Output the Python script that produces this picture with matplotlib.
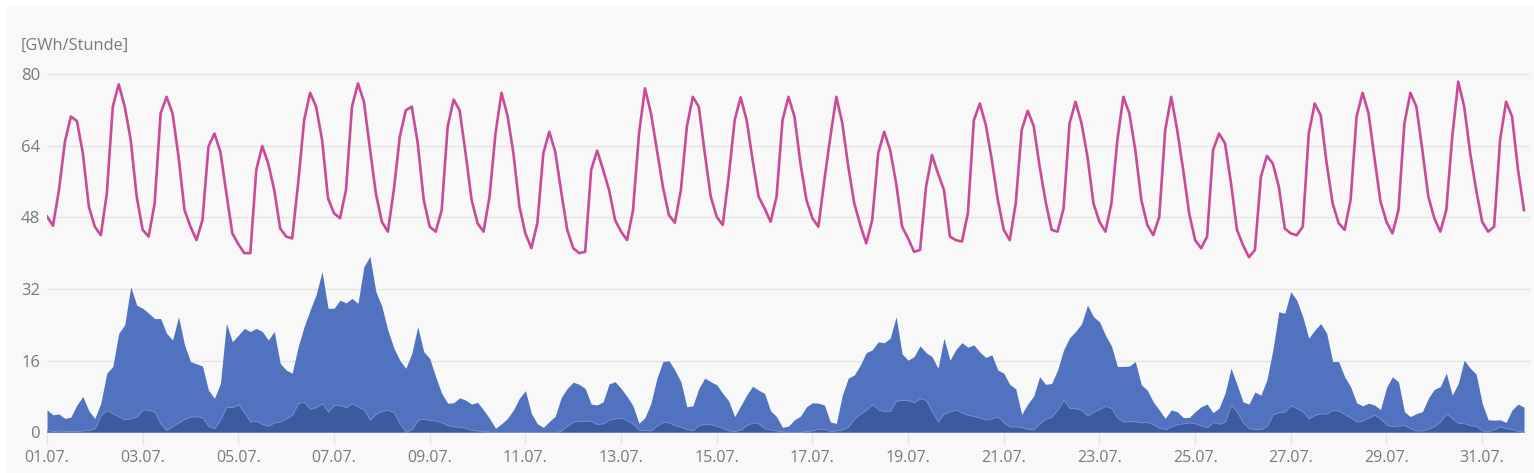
import numpy as np
import pandas as pd
import matplotlib
matplotlib.use("Agg")
import matplotlib.pyplot as plt  # noqa: E402
import matplotlib.dates as mdates  # noqa: E402
from matplotlib.patches import Rectangle  # noqa: E402

# 3-hourly values, 01.07. 00:00 .. 31.07. 21:00, one row per day (GWh per hour)
load = [
    48.2, 46.1, 54.1, 64.9, 70.5, 69.5, 62.3, 50.4,
    45.9, 44.0, 53.3, 72.7, 77.7, 72.7, 65.3, 52.6,
    45.2, 43.7, 51.1, 71.2, 74.9, 71.2, 61.5, 49.6,
    45.9, 42.9, 47.4, 63.8, 66.7, 62.6, 53.3, 44.4,
    42.0, 40.0, 40.0, 58.6, 63.9, 60.0, 54.1, 45.5,
    43.7, 43.3, 55.6, 69.7, 75.8, 72.7, 65.3, 52.2,
    48.9, 47.8, 54.1, 72.7, 77.9, 73.8, 63.4, 53.3,
    47.0, 44.8, 54.1, 66.0, 71.9, 72.7, 64.5, 51.9,
    45.9, 44.8, 49.6, 68.2, 74.3, 71.9, 62.3, 51.9,
    46.7, 44.8, 52.6, 66.7, 75.8, 70.8, 62.3, 50.4,
    44.4, 41.1, 46.7, 62.3, 67.1, 62.6, 53.6, 45.2,
    41.1, 40.0, 40.3, 58.6, 62.9, 58.6, 54.1, 47.4,
    44.8, 42.9, 49.6, 66.7, 76.8, 71.2, 63.0, 54.8,
    48.5, 46.8, 54.1, 68.2, 74.9, 72.7, 62.3, 52.6,
    48.1, 46.3, 57.1, 69.7, 74.8, 69.7, 60.8, 52.6,
    50.0, 47.0, 52.6, 69.7, 74.9, 70.5, 60.0, 51.9,
    47.8, 45.9, 56.3, 66.0, 74.9, 69.0, 59.3, 51.1,
    46.3, 42.2, 47.4, 62.3, 67.1, 63.0, 55.6, 45.9,
    43.3, 40.3, 40.7, 54.8, 61.9, 57.8, 54.1, 43.7,
    42.9, 42.6, 48.9, 69.7, 73.4, 68.6, 60.8, 51.9,
    45.2, 42.9, 51.1, 67.5, 71.8, 68.4, 59.3, 51.5,
    45.2, 44.8, 50.0, 69.0, 73.8, 69.0, 61.5, 51.1,
    47.0, 44.8, 51.1, 65.3, 74.9, 71.2, 63.0, 51.9,
    46.3, 44.0, 48.1, 67.5, 74.9, 67.5, 58.6, 48.9,
    42.9, 41.1, 43.7, 63.0, 66.7, 64.5, 55.6, 45.2,
    41.8, 39.1, 40.7, 57.1, 61.7, 60.0, 54.8, 45.5,
    44.4, 44.0, 45.9, 66.7, 73.4, 70.8, 60.0, 51.1,
    46.7, 45.2, 51.9, 70.5, 75.8, 71.2, 61.2, 51.5,
    47.0, 44.4, 49.6, 69.0, 75.8, 72.7, 63.0, 52.6,
    47.8, 44.8, 49.6, 66.0, 78.3, 72.7, 62.3, 54.1,
    47.0, 44.8, 45.9, 65.3, 73.8, 70.5, 58.6, 49.6,
]

wind_total = [
    5.0, 3.9, 4.1, 3.1, 3.4, 6.1, 8.0, 4.8,
    3.1, 6.5, 13.2, 14.7, 22.1, 24.0, 32.5, 28.4,
    27.7, 26.6, 25.4, 25.4, 22.1, 20.6, 25.8, 19.5,
    15.8, 15.3, 14.8, 9.4, 7.6, 10.9, 24.3, 20.2,
    21.7, 23.2, 22.5, 23.2, 22.5, 20.6, 22.5, 15.4,
    13.9, 13.2, 19.1, 23.6, 27.3, 30.7, 35.9, 27.7,
    27.7, 29.5, 28.9, 29.9, 28.8, 37.0, 39.3, 31.4,
    28.1, 22.8, 18.8, 16.1, 14.3, 17.6, 23.6, 18.0,
    16.5, 12.4, 8.7, 6.5, 6.6, 7.7, 7.2, 6.3,
    6.7, 5.0, 3.1, 0.9, 1.9, 3.1, 5.0, 7.6,
    9.3, 4.2, 1.9, 1.1, 2.4, 3.6, 7.8, 9.8,
    11.2, 10.7, 9.8, 6.3, 6.1, 6.8, 10.8, 11.3,
    9.8, 8.0, 5.9, 2.0, 3.3, 6.5, 12.1, 15.8,
    16.0, 13.9, 11.3, 5.7, 5.9, 9.8, 12.1, 11.3,
    10.6, 8.7, 7.0, 3.5, 5.9, 8.3, 10.3, 9.4,
    8.7, 4.8, 3.5, 1.1, 1.4, 2.8, 3.6, 5.7,
    6.6, 6.5, 6.1, 2.3, 2.0, 8.3, 12.1, 12.8,
    15.0, 17.8, 18.4, 20.2, 20.0, 21.0, 25.8, 17.5,
    16.1, 16.9, 19.3, 17.8, 16.9, 14.3, 21.0, 16.1,
    18.5, 20.0, 19.0, 19.5, 17.9, 16.7, 17.3, 13.9,
    13.2, 10.7, 9.7, 4.0, 6.3, 8.1, 12.4, 10.7,
    10.9, 13.9, 18.4, 21.1, 22.5, 24.2, 28.4, 25.8,
    24.7, 21.7, 19.3, 14.7, 14.7, 14.8, 15.8, 10.6,
    9.4, 6.8, 5.0, 3.1, 5.0, 4.6, 3.3, 3.3,
    4.6, 5.7, 6.3, 4.4, 5.4, 8.7, 14.3, 10.7,
    6.8, 6.3, 9.0, 8.3, 11.7, 18.4, 26.9, 26.6,
    31.4, 29.5, 25.8, 21.0, 22.8, 24.3, 22.1, 15.8,
    15.8, 12.4, 10.2, 6.6, 5.9, 6.5, 6.1, 5.1,
    10.0, 12.4, 11.3, 4.6, 3.5, 4.2, 4.6, 7.6,
    9.6, 10.2, 13.2, 8.3, 10.9, 16.1, 14.3, 13.0,
    6.5, 2.8, 2.7, 2.8, 2.2, 5.0, 6.3, 5.6,
]

wind_offshore = [
    0.5, 0.3, 0.4, 0.3, 0.3, 0.3, 0.4, 0.5,
    0.9, 3.9, 5.0, 4.2, 3.5, 2.9, 3.1, 3.5,
    5.1, 5.0, 4.6, 1.9, 0.5, 1.4, 2.2, 3.0,
    3.5, 3.6, 3.3, 1.4, 0.9, 2.9, 5.7, 5.6,
    6.3, 4.4, 2.4, 2.6, 1.8, 1.5, 2.2, 2.4,
    3.1, 3.9, 6.5, 6.8, 5.2, 5.6, 6.5, 4.6,
    6.1, 6.1, 5.6, 6.5, 5.7, 5.1, 2.8, 4.1,
    4.8, 5.0, 4.5, 2.0, 0.1, 0.7, 2.8, 3.0,
    2.8, 2.6, 2.2, 1.6, 1.3, 1.2, 1.0, 0.5,
    0.4, 0.3, 0.1, 0.0, 0.0, 0.0, 0.0, 0.1,
    0.0, 0.0, 0.0, 0.0, 0.0, 0.0, 0.4, 1.4,
    2.4, 2.5, 2.6, 2.5, 1.8, 2.0, 2.8, 3.1,
    3.3, 2.7, 1.9, 0.6, 0.5, 0.4, 1.5, 2.3,
    2.2, 1.6, 1.2, 0.7, 0.5, 1.6, 1.9, 1.8,
    1.4, 1.0, 0.4, 0.3, 0.6, 1.6, 2.2, 2.0,
    0.9, 0.6, 0.4, 0.2, 0.1, 0.1, 0.1, 0.3,
    0.4, 0.8, 0.7, 0.3, 0.4, 0.6, 1.3, 3.0,
    4.2, 5.0, 6.3, 5.1, 4.7, 4.8, 7.1, 7.2,
    7.2, 6.7, 7.6, 7.2, 4.6, 2.4, 4.2, 4.6,
    5.1, 4.4, 3.9, 3.6, 3.3, 2.8, 3.1, 3.5,
    2.2, 1.3, 1.3, 1.2, 0.7, 0.7, 2.0, 3.0,
    3.5, 5.1, 7.2, 5.4, 5.4, 5.0, 3.7, 4.6,
    5.2, 5.9, 5.4, 3.3, 2.4, 2.5, 2.4, 2.2,
    2.3, 1.8, 1.0, 0.7, 1.3, 1.8, 2.0, 2.2,
    2.0, 1.5, 1.1, 2.3, 1.9, 2.4, 6.1, 4.6,
    2.2, 0.9, 0.7, 0.7, 1.4, 4.0, 4.5, 4.6,
    6.0, 5.4, 4.7, 3.1, 3.9, 4.2, 4.2, 5.0,
    4.8, 4.1, 3.3, 2.4, 2.6, 3.3, 3.9, 3.1,
    1.7, 1.4, 1.5, 1.6, 0.9, 0.4, 0.4, 0.8,
    1.4, 2.4, 4.2, 3.1, 2.1, 2.0, 1.6, 1.4,
    0.4, 0.3, 0.7, 1.3, 0.9, 0.7, 0.3, 0.1,
]

y_ticks = [0, 16, 32, 48, 64, 80]
unit_label = "[GWh/Stunde]"

PINK = "#ca4a9a"
BLUE_LIGHT = "#5173bf"
BLUE_DARK = "#3b5a9f"
GREY_TXT = "#7a7a7a"

plt.rcParams["font.family"] = ["Open Sans", "DejaVu Sans"]

t = pd.date_range("2024-07-01", periods=len(load), freq="3h")
x_ticks = pd.date_range("2024-07-01", "2024-07-31", freq="2D")

W, H = 1534, 473
fig = plt.figure(figsize=(W / 100, H / 100), dpi=100, facecolor="white")
fig.patches.append(Rectangle((7 / W, 0), 1, 1 - 7 / H, transform=fig.transFigure,
                             facecolor="#f8f8f8", edgecolor="none", zorder=-10))

ax = fig.add_axes([47 / W, (H - 432.3) / H, 1483 / W, (432.3 - 74) / H])
ax.set_facecolor("none")

ax.fill_between(t, 0, wind_total, color=BLUE_LIGHT, lw=0, zorder=2)
ax.fill_between(t, 0, wind_offshore, facecolor=BLUE_DARK, edgecolor="#7f95cf",
                lw=0.6, zorder=3)
ax.plot(t, load, color=PINK, lw=1.9, zorder=4, solid_joinstyle="round")

ax.set_ylim(0, 80)
ax.set_xlim(pd.Timestamp("2024-07-01"), pd.Timestamp("2024-08-01"))
ax.set_yticks(y_ticks)
ax.yaxis.grid(True, color="#e6e6e6", lw=1)
ax.set_axisbelow(True)
for s in ax.spines.values():
    s.set_visible(False)

ax.set_xticks(x_ticks)
ax.xaxis.set_major_formatter(mdates.DateFormatter("%d.%m."))
ax.tick_params(axis="x", length=9.5, width=1, color="#e4e4e4", pad=3,
               labelsize=11.5, labelcolor=GREY_TXT)
ax.tick_params(axis="y", length=0, pad=5, labelsize=12, labelcolor=GREY_TXT)

fig.text(21 / W, 1 - 46 / H, unit_label, fontsize=11.8, color=GREY_TXT,
         ha="left", va="center")

fig.savefig("out.png", dpi=100, facecolor="white")
plt.close(fig)
